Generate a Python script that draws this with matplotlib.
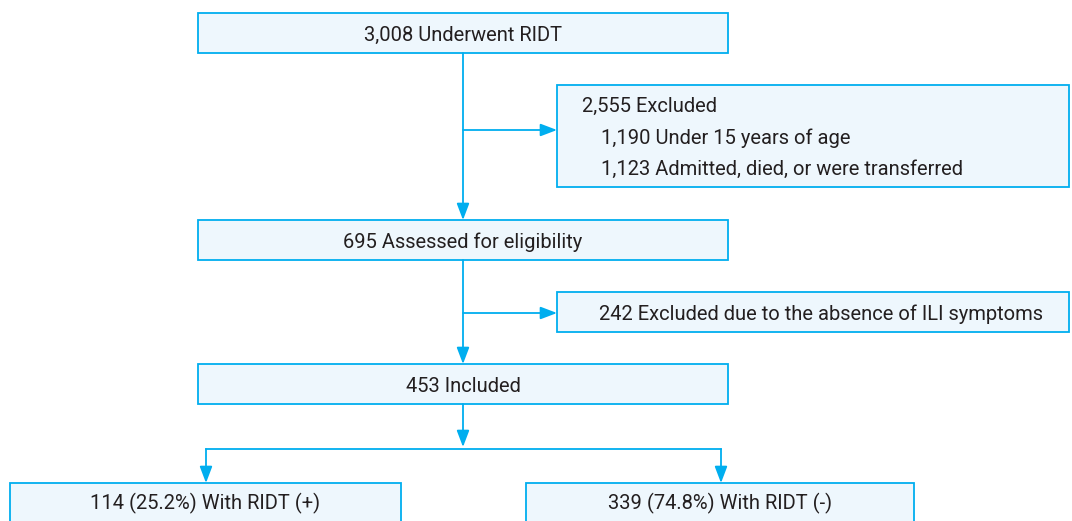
import matplotlib.pyplot as plt
from matplotlib.patches import Rectangle

# flowchart text
main_labels = ["3,008 Underwent RIDT", "695 Assessed for eligibility", "453 Included"]
excl_head = "2,555 Excluded"
excl_items = ["1,190 Under 15 years of age", "1,123 Admitted, died, or were transferred"]
excl_ili = "242 Excluded due to the absence of ILI symptoms"
group_labels = ["114 (25.2%) With RIDT (+)", "339 (74.8%) With RIDT (-)"]

LINE = "#00AEEF"
FILL = "#EEF7FD"
TEXT = "#231F20"

plt.rcParams['font.family'] = ['Roboto', 'DejaVu Sans']

fig = plt.figure(figsize=(10.72, 5.21), dpi=100)
ax = fig.add_axes([0, 0, 1, 1])
ax.set_xlim(0, 1072)
ax.set_ylim(521, 0)
ax.axis('off')


def box(x0, y0, x1, y1):
    ax.add_patch(Rectangle((x0, y0), x1 - x0, y1 - y0, facecolor=FILL,
                           edgecolor=LINE, lw=1.3, zorder=2))


def arrow(x0, y0, x1, y1):
    ax.annotate("", xy=(x1, y1), xytext=(x0, y0),
                arrowprops=dict(arrowstyle="-|>,head_length=1.0,head_width=0.38",
                                color=LINE, lw=1.3, shrinkA=0, shrinkB=0), zorder=3)


def label(x, y, s, ha='center'):
    ax.text(x, y, s, ha=ha, va='center', fontsize=fs, color=TEXT, zorder=4)


fs = 14.5
cx = 463
main_boxes = [(13, 53), (220, 260), (364, 404)]
for (y0, y1), lab in zip(main_boxes, main_labels):
    box(198, y0, 728, y1)
    label(cx, (y0 + y1) / 2 + 2, lab)

# exclusion boxes
box(557, 85, 1069, 187)
label(582, 106.5, excl_head, ha='left')
for i, line in enumerate(excl_items):
    label(601, 138 + i * 31, line, ha='left')
box(557, 292, 1069, 332)
label(821, 314, excl_ili)

# connectors
arrow(cx, 53, cx, 220)
arrow(cx, 130, 557, 130)
arrow(cx, 260, cx, 364)
arrow(cx, 313, 557, 313)
arrow(cx, 404, cx, 447)
ax.plot([206, 721], [449, 449], color=LINE, lw=1.3)

# bottom groups
groups = [(10, 401, 206), (526, 914, 721)]
for (x0, x1, ax_x), lab in zip(groups, group_labels):
    arrow(ax_x, 449, ax_x, 483)
    box(x0, 483, x1, 540)
    label((x0 + x1) / 2, 503, lab)

fig.savefig("out.png", dpi=100)
